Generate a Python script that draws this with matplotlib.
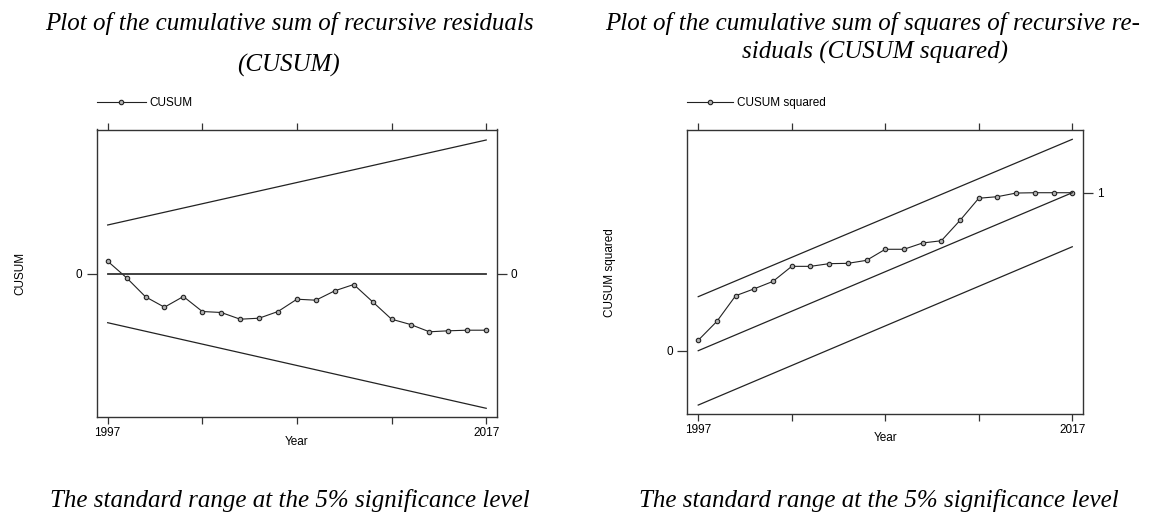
import matplotlib
matplotlib.use('Agg')
import matplotlib.pyplot as plt

# данные
years = list(range(1997, 2018))
cusum = [1.23, -0.43, -2.33, -3.37, -2.30, -3.80, -3.90, -4.57, -4.47, -3.80, -2.57,
         -2.67, -1.73, -1.10, -2.83, -4.57, -5.10, -5.83, -5.73, -5.67, -5.67]
cusum_sq = [0.066, 0.186, 0.348, 0.392, 0.439, 0.534, 0.534, 0.551, 0.553, 0.572, 0.642,
            0.642, 0.682, 0.696, 0.825, 0.965, 0.975, 0.998, 1.0, 1.0, 1.0]

band_years = [1997, 2017]
cusum_upper = [4.85, 13.35]
cusum_lower = [-4.92, -13.48]
cusum_zero = [0, 0]
sq_mid = [0, 1]
sq_upper = [0.342, 1.338]
sq_lower = [-0.344, 0.658]

xticks = [1997, 2002, 2007, 2012, 2017]
xticklabels = ['1997', '', '', '', '2017']

title_left = 'Plot of the cumulative sum of recursive residuals'
title_left2 = '(CUSUM)'
title_right = 'Plot of the cumulative sum of squares of recursive re-'
title_right2 = 'siduals (CUSUM squared)'
caption = 'The standard range at the 5% significance level'

plt.rcParams['font.family'] = ['Liberation Sans', 'DejaVu Sans']
SANS = 8.5
LC = '#222222'

fig = plt.figure(figsize=(11.49, 5.14), dpi=100)
W, H = 1149, 514


def style_axes(ax):
    for s in ax.spines.values():
        s.set_color('#333333')
        s.set_linewidth(1.0)
    ax.set_xticks(xticks)
    ax.set_xticklabels(xticklabels)
    ax.tick_params(axis='both', direction='out', length=5, width=0.9, color='#333333',
                   labelsize=SANS, pad=2)
    ax.tick_params(axis='x', top=True, labeltop=False)


mk = dict(marker='o', markersize=3.2, markerfacecolor='#b0b0b0', markeredgecolor=LC,
          markeredgewidth=0.8)

# левый график - CUSUM
ax1 = fig.add_axes([96.5 / W, 1 - 417.3 / H, 400.5 / W, 287.8 / H])
ax1.plot(years, cusum, color=LC, lw=0.8, label='CUSUM', **mk)
ax1.plot(band_years, cusum_upper, color=LC, lw=0.9)
ax1.plot(band_years, cusum_lower, color=LC, lw=0.9)
ax1.plot(band_years, cusum_zero, color='#333333', lw=1.3)
ax1.set_xlim(1996.41, 2017.57)
ax1.set_ylim(-14.38, 14.4)
ax1.set_yticks([0])
ax1.set_yticklabels(['0'])
style_axes(ax1)
ax1.tick_params(axis='y', right=True, labelright=True, length=7, pad=3)
ax1.set_xlabel('Year', fontsize=SANS, va='center')
ax1.xaxis.set_label_coords(0.5, -0.086)
ax1.set_ylabel('CUSUM', fontsize=SANS, va='center')
ax1.yaxis.set_label_coords(-0.191, 0.5)
ax1.legend(loc='center left', bbox_to_anchor=(0.0, 1.091), frameon=False, fontsize=SANS,
           borderaxespad=0, borderpad=0, handlelength=4.2, handletextpad=0.3, numpoints=1)

# правый график - CUSUM squared
ax2 = fig.add_axes([687 / W, 1 - 414.3 / H, 396.3 / W, 284.3 / H])
ax2.plot(years, cusum_sq, color=LC, lw=0.8, label='CUSUM squared', **mk)
ax2.plot(band_years, sq_upper, color=LC, lw=0.9)
ax2.plot(band_years, sq_mid, color=LC, lw=0.9)
ax2.plot(band_years, sq_lower, color=LC, lw=0.9)
ax2.set_xlim(1996.4, 2017.59)
ax2.set_ylim(-0.4025, 1.397)
ax2.set_yticks([0])
ax2.set_yticklabels(['0'])
style_axes(ax2)
ax2.tick_params(axis='y', length=7, pad=3)
ax2r = ax2.twinx()
ax2r.set_ylim(ax2.get_ylim())
ax2r.set_yticks([1])
ax2r.set_yticklabels(['1'])
ax2r.tick_params(axis='y', direction='out', length=7, width=0.9, color='#333333',
                 labelsize=SANS, pad=3)
for s in ax2r.spines.values():
    s.set_visible(False)
ax2.set_xlabel('Year', fontsize=SANS, va='center')
ax2.xaxis.set_label_coords(0.501, -0.083)
ax2.set_ylabel('CUSUM squared', fontsize=SANS, va='center')
ax2.yaxis.set_label_coords(-0.194, 0.5)
ax2.legend(loc='center left', bbox_to_anchor=(0.0, 1.094), frameon=False, fontsize=SANS,
           borderaxespad=0, borderpad=0, handlelength=3.9, handletextpad=0.3, numpoints=1)

# заголовки и подписи
serif = dict(family='Liberation Serif', style='italic', fontsize=18, ha='center',
             va='baseline')
fig.text(289 / W, 1 - 30 / H, title_left, **serif)
fig.text(289 / W, 1 - 72 / H, title_left2, **serif)
fig.text(873 / W, 1 - 30 / H, title_right, **serif)
fig.text(875 / W, 1 - 59 / H, title_right2, **serif)
fig.text(290 / W, 1 - 507 / H, caption, **serif)
fig.text(879 / W, 1 - 507 / H, caption, **serif)

plt.savefig('out.png', dpi=100)
